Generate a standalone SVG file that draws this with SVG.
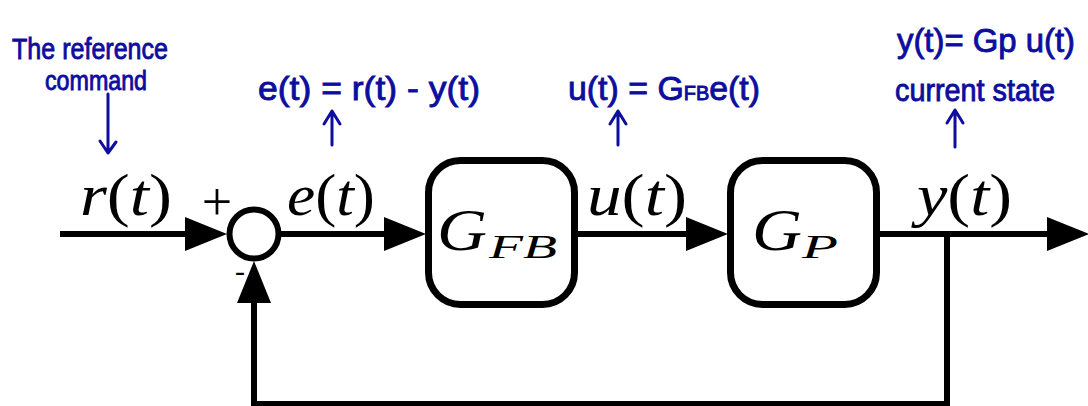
<svg xmlns="http://www.w3.org/2000/svg" width="1088" height="406" viewBox="0 0 1088 406">
<style>
.ln{stroke:#000;stroke-width:6;fill:none}
.blk{stroke:#000;stroke-width:7;fill:#fff}
.math{font-family:"Liberation Serif","Times New Roman",serif;fill:#000}
.it{font-style:italic}
.hw{font-family:"Liberation Sans",Arial,sans-serif;fill:#0d0d9e;stroke:#0d0d9e;stroke-width:0.9}
.ha{stroke:#0d0d9e;stroke-width:3;fill:none;stroke-linecap:round;stroke-linejoin:round}
</style>
<defs>
<marker id="ah" markerUnits="userSpaceOnUse" markerWidth="42" markerHeight="34" refX="0" refY="17" orient="auto" viewBox="0 0 42 34">
<path d="M0,0 L42,17 L0,34 Z" fill="#000"/>
</marker>
</defs>
<rect width="1088" height="406" fill="#fff"/>
<g id="connectors">
<path class="ln" d="M60,234 H185" marker-end="url(#ah)"/>
<path class="ln" d="M281,234 H384" marker-end="url(#ah)"/>
<path class="ln" d="M578,234 H686" marker-end="url(#ah)"/>
<path class="ln" d="M880,234 H1047" marker-end="url(#ah)"/>
<path class="ln" d="M947,234 V404 H254 V303" marker-end="url(#ah)"/>
</g>
<g id="sum">
<circle cx="254" cy="234" r="24.5" fill="#fff" stroke="#000" stroke-width="6"/>
<text class="math" x="217" y="220" font-size="54" text-anchor="middle">+</text>
<text class="math" x="240" y="281" font-size="30" text-anchor="middle" font-family="Liberation Sans">-</text>
</g>
<g id="gfb">
<rect class="blk" x="428.5" y="160.5" width="146" height="144" rx="32"/>
<text class="math it" x="437" y="250" font-size="60" textLength="50" lengthAdjust="spacingAndGlyphs">G</text>
<text class="math it" x="489" y="258" font-size="34" textLength="68" lengthAdjust="spacingAndGlyphs">FB</text>
</g>
<g id="gp">
<rect class="blk" x="730.5" y="160.5" width="146" height="144" rx="32"/>
<text class="math it" x="752" y="250" font-size="60" textLength="50" lengthAdjust="spacingAndGlyphs">G</text>
<text class="math it" x="802" y="258" font-size="34" textLength="36" lengthAdjust="spacingAndGlyphs">P</text>
</g>
<g id="labels">
<text class="math" x="80" y="215" font-size="60" textLength="92" lengthAdjust="spacingAndGlyphs"><tspan class="it">r</tspan>(<tspan class="it">t</tspan>)</text>
<text class="math" x="287" y="215" font-size="60" textLength="88" lengthAdjust="spacingAndGlyphs"><tspan class="it">e</tspan>(<tspan class="it">t</tspan>)</text>
<text class="math" x="587" y="215" font-size="60" textLength="100" lengthAdjust="spacingAndGlyphs"><tspan class="it">u</tspan>(<tspan class="it">t</tspan>)</text>
<text class="math" x="917" y="215" font-size="60" textLength="95" lengthAdjust="spacingAndGlyphs"><tspan class="it">y</tspan>(<tspan class="it">t</tspan>)</text>
</g>
<g id="note-r">
<text class="hw" x="12" y="59" font-size="30" textLength="156" lengthAdjust="spacingAndGlyphs">The reference</text>
<text class="hw" x="45" y="90" font-size="28" textLength="102" lengthAdjust="spacingAndGlyphs">command</text>
<path class="ha" d="M108,94 V153 M100,141 L108,153 L116,142"/>
</g>
<g id="note-e">
<text class="hw" x="258" y="100" font-size="34" textLength="222" lengthAdjust="spacingAndGlyphs">e(t) = r(t) - y(t)</text>
<path class="ha" d="M332,145 V111 M324,124 L332,111 L340,124"/>
</g>
<g id="note-u">
<text class="hw" x="568" y="100" font-size="34" textLength="192" lengthAdjust="spacingAndGlyphs">u(t) = G<tspan font-size="20">FB</tspan>e(t)</text>
<path class="ha" d="M618,145 V111 M610,124 L618,111 L626,124"/>
</g>
<g id="note-y">
<text class="hw" x="897" y="52" font-size="34" textLength="178" lengthAdjust="spacingAndGlyphs">y(t)= Gp u(t)</text>
<text class="hw" x="895" y="101" font-size="32" textLength="160" lengthAdjust="spacingAndGlyphs">current state</text>
<path class="ha" d="M955,147 V110 M947,123 L955,110 L963,123"/>
</g>
</svg>
